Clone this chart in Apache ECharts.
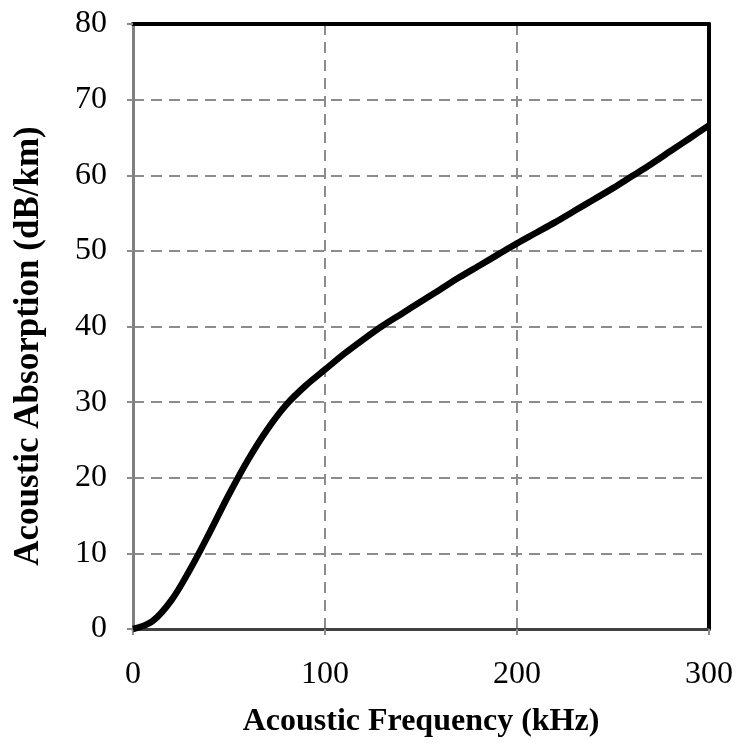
<!DOCTYPE html>
<html>
<head>
<meta charset="utf-8">
<script src="https://cdn.jsdelivr.net/npm/echarts@6/dist/echarts.min.js"></script>
<style>
html,body{margin:0;padding:0;background:#fff;}
#chart{width:739px;height:743px;}
</style>
</head>
<body>
<div id="chart"></div>
<script>
const frequencyKHz = [0, 10, 20, 30, 40, 50, 60, 70, 80, 90, 100, 110, 120, 130, 140, 150, 160, 170, 180, 190, 200, 210, 220, 230, 240, 250, 260, 270, 280, 290, 300];
const absorptionDbKm = [0, 1.0, 3.8, 8.0, 12.8, 17.8, 22.4, 26.4, 29.7, 32.2, 34.3, 36.4, 38.3, 40.1, 41.7, 43.3, 44.9, 46.5, 48.0, 49.5, 51.0, 52.4, 53.8, 55.3, 56.8, 58.3, 59.9, 61.5, 63.2, 64.9, 66.6];
const xTicks = [0, 100, 200, 300];
const yTicks = [0, 10, 20, 30, 40, 50, 60, 70, 80];
const xTitle = 'Acoustic Frequency (kHz)';
const yTitle = 'Acoustic Absorption (dB/km)';

const chart = echarts.init(document.getElementById('chart'), null, {renderer: 'canvas'});
const font = 'Liberation Serif, Times New Roman, serif';
const gridDash = {color: '#8c8c8c', width: 2, type: [11, 7]};

chart.setOption({
  animation: false,
  backgroundColor: '#fff',
  grid: {left: 133, top: 24, width: 576, height: 605, containLabel: false},
  xAxis: [{
    type: 'value', min: xTicks[0], max: xTicks[xTicks.length - 1], interval: 100,
    axisLine: {show: true, lineStyle: {color: '#404040', width: 3}},
    axisTick: {show: true, length: 6, lineStyle: {color: '#8c8c8c', width: 2}},
    axisLabel: {color: '#000', fontFamily: font, fontSize: 32, margin: 30},
    splitLine: {show: true, lineStyle: gridDash}
  }, {
    type: 'value', position: 'top', min: 0, max: 300,
    axisLine: {show: true, onZero: false, lineStyle: {color: '#000', width: 4}},
    axisTick: {show: false}, axisLabel: {show: false}, splitLine: {show: false}
  }],
  yAxis: [{
    type: 'value', min: yTicks[0], max: yTicks[yTicks.length - 1], interval: 10,
    axisLine: {show: true, lineStyle: {color: '#808080', width: 3}},
    axisTick: {show: true, length: 6, lineStyle: {color: '#8c8c8c', width: 2}},
    axisLabel: {color: '#000', fontFamily: font, fontSize: 32, margin: 26},
    splitLine: {show: true, lineStyle: gridDash}
  }, {
    type: 'value', position: 'right', min: 0, max: 80,
    axisLine: {show: true, onZero: false, lineStyle: {color: '#000', width: 4}},
    axisTick: {show: false}, axisLabel: {show: false}, splitLine: {show: false}
  }],
  series: [{
    type: 'line',
    xAxisIndex: 0, yAxisIndex: 0,
    data: frequencyKHz.map((f, i) => [f, absorptionDbKm[i]]),
    smooth: 0.35,
    showSymbol: false,
    lineStyle: {color: '#000', width: 6.5},
    z: 5
  }]
});

const xMid = chart.convertToPixel({xAxisIndex: 0}, 150);
chart.setOption({
  graphic: [{
    type: 'text', x: xMid, y: 722,
    style: {text: xTitle, font: 'bold 32px ' + font, fill: '#000', textAlign: 'center', textVerticalAlign: 'middle'}
  }, {
    type: 'text', x: 29, y: 346, rotation: Math.PI / 2,
    style: {text: yTitle, font: 'bold 35px ' + font, fill: '#000', textAlign: 'center', textVerticalAlign: 'middle'}
  }]
});
</script>
</body>
</html>
